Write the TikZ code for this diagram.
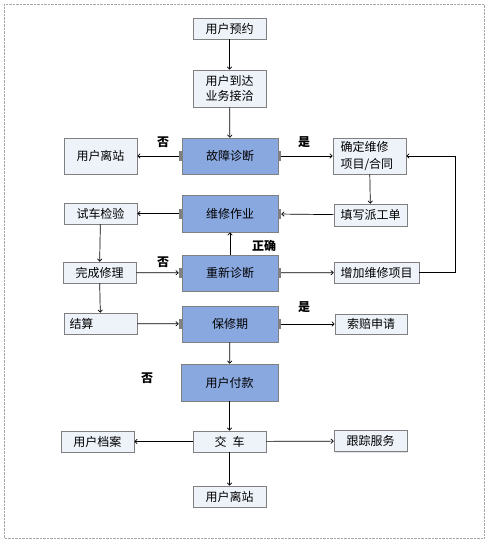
\documentclass[tikz,border=0pt]{standalone}
\usepackage{fontspec}
\newfontfamily\cjk{Noto Sans CJK SC}
\usetikzlibrary{arrows.meta,shadows}
\definecolor{boxfill}{RGB}{238,243,250}
\definecolor{stepblue}{RGB}{138,168,224}
\definecolor{edgegray}{RGB}{128,128,128}
\begin{document}
\begin{tikzpicture}[x=1pt,y=-1pt,
		font=\cjk\fontsize{12}{15}\selectfont,
		>={To[length=3pt,width=5pt]},
		plain/.style={draw=edgegray,line width=0.8pt,fill=boxfill,minimum width=73pt,minimum height=21pt,inner sep=0pt,
			drop shadow={shadow xshift=1.2pt,shadow yshift=-1.2pt,fill=black!22}},
		key/.style={plain,fill=stepblue,minimum width=96pt,minimum height=36pt},
		flow/.style={->,line width=0.7pt},
		toport/.style={flow,shorten >=3pt},
		tag/.style={font=\cjk\bfseries\fontsize{12}{14}\selectfont}]
	\useasboundingbox (0,0) rectangle (488,542);
	\draw [densely dotted,black!35] (4,4) rectangle (484,538);
	\node [plain] (book) at (229.5,28.5) {用户预约};
	\node [plain,minimum height=37pt,align=center] (arrive) at (229.5,88.5) {用户到达\\业务接洽};
	\node [key] (diag) at (230,156) {故障诊断};
	\node [plain,minimum height=36pt] (leave) at (100.5,156) {用户离站};
	\node [plain,minimum height=36pt,text width=58pt,align=left] (confirm) at (369.5,156) {确定维修\\[2pt]项目/合同};
	\node [plain,minimum height=22pt] (order) at (370.5,215) {填写派工单};
	\node [key,minimum height=37pt] (work) at (230,213.5) {维修作业};
	\node [plain] (test) at (100.5,213.5) {试车检验};
	\node [plain] (finish) at (99.5,272.5) {完成修理};
	\node [key] (recheck) at (230,273) {重新诊断};
	\node [plain,minimum width=85pt] (extra) at (376.5,272.5) {增加维修项目};
	\node [plain,text width=62pt,align=left] (settle) at (100.5,323.5) {结算};
	\node [key] (warranty) at (230,324) {保修期};
	\node [plain,minimum width=72pt,minimum height=20pt] (claim) at (371,324) {索赔申请};
	\node [key,minimum width=97pt,minimum height=37pt] (pay) at (229.5,382.5) {用户付款};
	\node [plain] (handover) at (229.5,441.5) {交\hspace{6pt}车};
	\node [plain] (archive) at (97.5,441.5) {用户档案};
	\node [plain] (follow) at (370.5,441) {跟踪服务};
	\node [plain] (gone) at (229.5,496.5) {用户离站};
	\coordinate (loop) at (455,156);
	\node [tag] (no1) at (163,142) {否};
	\node [tag] (yes1) at (304,142) {是};
	\node [tag] (ok) at (264,246) {正确};
	\node [tag] (no2) at (163,262) {否};
	\node [tag] (yes2) at (304,307) {是};
	\node [tag] (no3) at (147,378) {否};
	\draw [flow] (book) -- (arrive);
	\draw [flow] (arrive) -- (diag);
	\draw [flow] (diag) -- (leave);
	\draw [flow] (diag) -- (confirm);
	\draw [flow] (confirm) -- (order);
	\draw [toport] (order) -- (work);
	\draw [flow] (work) -- (test);
	\draw [flow] (test) -- (finish);
	\draw [toport] (finish) -- (recheck);
	\draw [flow] (recheck) -- (work);
	\draw [flow] (recheck) -- (extra);
	\draw [flow] (extra.east) -| (loop) -- (confirm.east);
	\draw [flow] (finish) -- (settle);
	\draw [toport] (settle) -- (warranty);
	\draw [flow] (warranty) -- (claim);
	\draw [flow] (warranty) -- (pay);
	\draw [flow] (pay) -- (handover);
	\draw [flow] (handover) -- (archive);
	\draw [flow] (handover) -- (follow);
	\draw [flow] (handover) -- (gone);
	\foreach \n in {diag,work,recheck,warranty} {
		\fill [edgegray] ([xshift=-3pt,yshift=-5pt]\n.west) rectangle ([yshift=5pt]\n.west);
		\fill [edgegray] ([yshift=-5pt]\n.east) rectangle ([xshift=3pt,yshift=5pt]\n.east);
	}
\end{tikzpicture}
\end{document}
